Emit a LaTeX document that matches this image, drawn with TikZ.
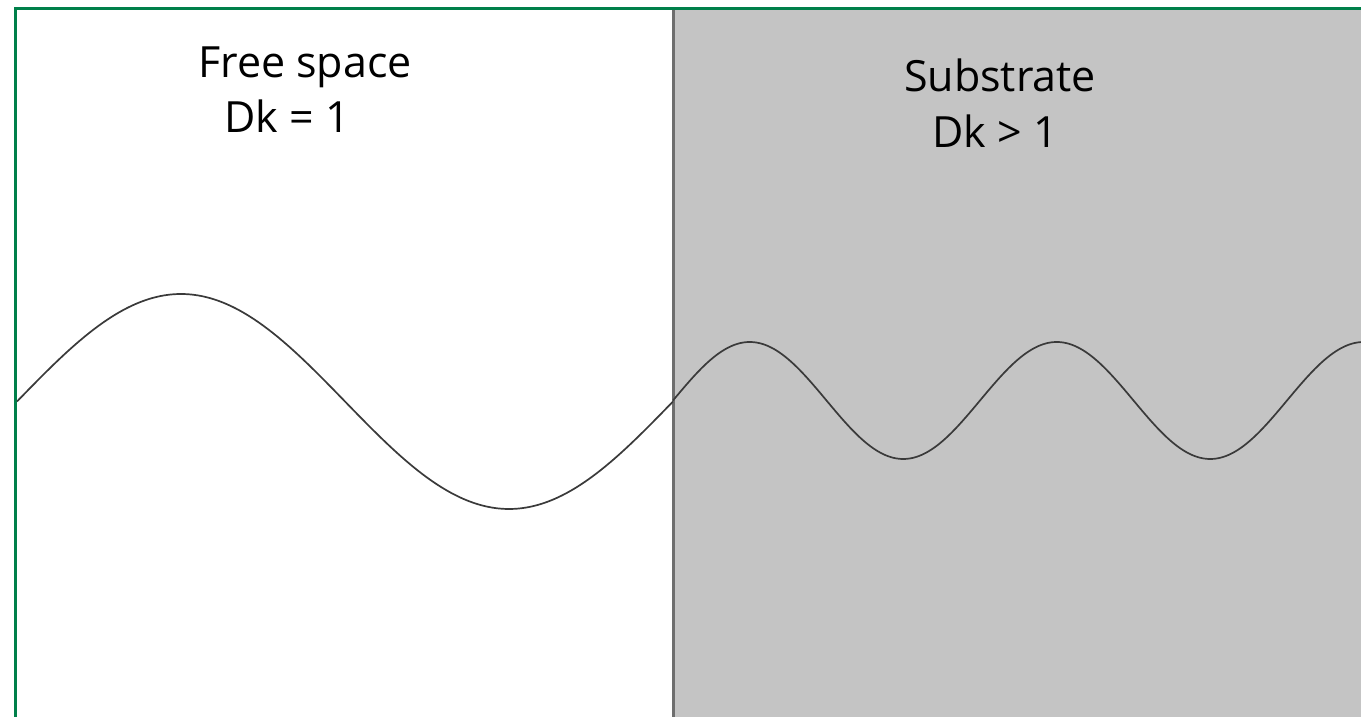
\documentclass[tikz,border=0pt]{standalone}
\usepackage{fontspec}
\setmainfont{Open Sans}
\definecolor{frame}{HTML}{00804A}
\definecolor{subgray}{HTML}{C4C4C4}
\definecolor{divider}{HTML}{6E6E6E}
\definecolor{wavecol}{HTML}{3A3A3A}
\begin{document}
\begin{tikzpicture}[x=1pt,y=1pt,
  lbl/.style={inner sep=0pt, anchor=base, font=\fontsize{43}{50}\selectfont, text=black},
  wave/.style={draw=wavecol, line width=1.7pt, line join=round}]
\useasboundingbox (0,0) rectangle (1361,717);
\fill[white] (0,0) rectangle (1361,717);
% substrate region
\fill[subgray] (673,0) rectangle (1361,707);
\draw[divider, line width=2.5pt] (673.5,0) -- (673.5,707);
% frame
\draw[frame, line width=3.4pt] (15.5,0) -- (15.5,708.5) -- (1361,708.5);
% labels
\node[lbl] (fs) at (305,639) {Free space};
\node[lbl] (dk1) at (287,584) {Dk = 1};
\node[lbl] (sub) at (1000,625) {Substrate};
\node[lbl] (dk2) at (995,569) {Dk > 1};
% waves
\draw[wave] plot[domain=17:673, samples=220] (\x, {315.5 + 107.5*sin((\x-17)/656*360)});
\draw[wave] plot[domain=673:1361, samples=300] (\x, {316.5 + 58.5*sin((\x-673)/307*360)});
\end{tikzpicture}
\end{document}
